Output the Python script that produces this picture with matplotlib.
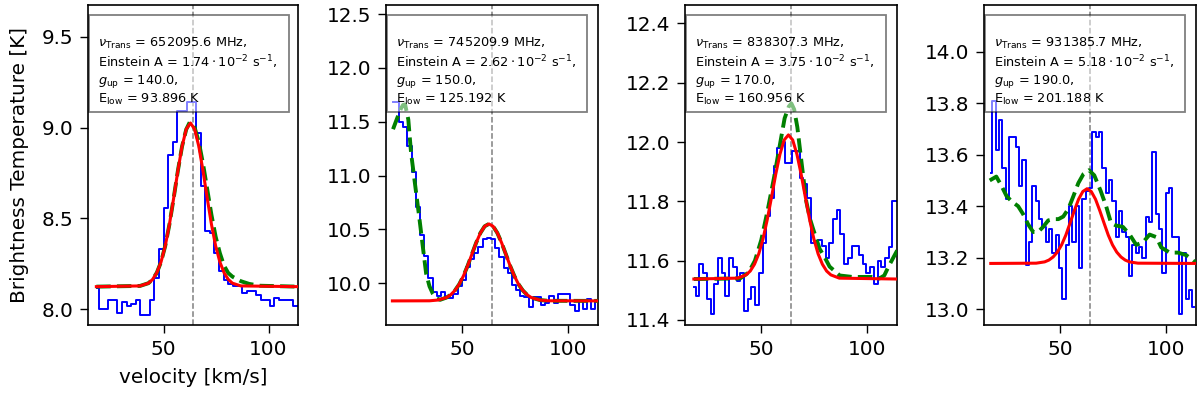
import numpy as np
import matplotlib
matplotlib.use('Agg')
import matplotlib.pyplot as plt
from matplotlib.patches import Rectangle
from matplotlib.ticker import MultipleLocator

# observed spectra (brightness temperature per channel)
v0List = [18.1, 17.2, 18.2, 17.2]
dvList = [2.2, 1.97, 1.75, 1.57]

obs1 = [8.12, 8.00, 8.00, 8.05, 8.05, 7.98, 8.04, 8.02, 8.03, 8.05,
        7.97, 7.97, 8.05, 8.17, 8.33, 8.56, 8.85, 8.92, 9.09, 9.09,
        9.14, 9.14, 8.97, 8.68, 8.43, 8.42, 8.31, 8.21, 8.16, 8.14,
        8.13, 8.13, 8.09, 8.10, 8.10, 8.08, 8.05, 8.05, 8.02, 8.06,
        8.05, 8.05, 8.05, 8.02, 8.02]
obs2 = [11.68, 11.68, 11.50, 11.45, 11.27, 11.03, 10.71, 10.45, 10.25, 10.05,
        9.92, 9.88, 9.92, 9.86, 9.86, 9.90, 9.97, 10.03, 10.15, 10.22,
        10.28, 10.34, 10.41, 10.42, 10.41, 10.33, 10.24, 10.14, 10.09, 9.98,
        9.94, 9.88, 9.87, 9.78, 9.87, 9.87, 9.80, 9.82, 9.88, 9.82,
        9.90, 9.90, 9.90, 9.80, 9.74, 9.83, 9.76, 9.85, 9.76, 9.83]
obs3 = [11.51, 11.48, 11.59, 11.56, 11.47, 11.42, 11.52, 11.61, 11.56, 11.48,
        11.61, 11.58, 11.53, 11.56, 11.43, 11.47, 11.51, 11.45, 11.56, 11.66,
        11.75, 11.81, 11.92, 11.98, 12.00, 11.93, 11.93, 11.97, 11.97, 11.88,
        11.86, 11.81, 11.66, 11.66, 11.67, 11.65, 11.61, 11.66, 11.74, 11.77,
        11.69, 11.59, 11.61, 11.65, 11.65, 11.62, 11.59, 11.56, 11.58, 11.52,
        11.60, 11.58, 11.61, 11.645, 11.80, 11.80]
obs4 = [13.53, 13.81, 13.62, 13.735, 13.55, 13.43, 13.67, 13.67, 13.63, 13.48,
        13.58, 13.17, 13.26, 13.48, 13.42, 13.35, 13.32, 13.26, 13.31, 13.22,
        13.29, 13.16, 13.04, 13.25, 13.40, 13.26, 13.40, 13.16, 13.43, 13.46,
        13.47, 13.69, 13.67, 13.69, 13.55, 13.45, 13.50, 13.42, 13.28, 13.38,
        13.30, 13.28, 13.13, 13.25, 13.22, 13.24, 13.20, 13.36, 13.34, 13.61,
        13.37, 13.31, 13.14, 13.45, 13.47, 13.28, 13.28, 12.98, 13.22, 13.04,
        13.075, 13.01]

# single line fit (red)
fitV1 = [18, 38.8, 42.8, 44.8, 46.8, 48.8, 50.8, 52.8, 54.8, 56.8, 58.8, 60.8, 62.8,
         64.8, 66.8, 68.8, 70.8, 72.8, 74.8, 76.8, 78.8, 80.8, 82.8, 86.8, 114]
fitT1 = [8.125, 8.129, 8.144, 8.165, 8.202, 8.261, 8.349, 8.468, 8.611, 8.761, 8.896, 8.991, 9.025,
         8.991, 8.896, 8.761, 8.611, 8.468, 8.349, 8.261, 8.202, 8.165, 8.144, 8.129, 8.125]
fitV2 = [17, 34.5, 38.5, 42.5, 44.5, 46.5, 48.5, 50.5, 52.5, 54.5, 56.5, 58.5, 60.5, 62.5,
         64.5, 66.5, 68.5, 70.5, 72.5, 74.5, 76.5, 78.5, 80.5, 82.5, 86.5, 90.5, 115]
fitT2 = [9.835, 9.836, 9.843, 9.866, 9.892, 9.932, 9.989, 10.067, 10.162, 10.269, 10.375, 10.466, 10.528, 10.55,
         10.528, 10.466, 10.375, 10.269, 10.162, 10.067, 9.989, 9.932, 9.892, 9.866, 9.843, 9.836, 9.835]
fitV3 = [18.2, 38.8, 42.8, 44.8, 46.8, 48.8, 50.8, 52.8, 54.8, 56.8, 58.8, 60.8, 62.8,
         64.8, 66.8, 68.8, 70.8, 72.8, 74.8, 76.8, 78.8, 80.8, 82.8, 86.8, 114.5]
fitT3 = [11.538, 11.541, 11.552, 11.565, 11.588, 11.623, 11.673, 11.738, 11.813, 11.891, 11.959, 12.007, 12.024,
         12.007, 11.959, 11.891, 11.813, 11.738, 11.673, 11.623, 11.588, 11.565, 11.552, 11.541, 11.538]
fitV4 = [17.2, 38.6, 42.6, 44.6, 46.6, 48.6, 50.6, 52.6, 54.6, 56.6, 58.6, 60.6, 62.6,
         64.6, 66.6, 68.6, 70.6, 72.6, 74.6, 76.6, 78.6, 80.6, 82.6, 86.6, 114.5]
fitT4 = [13.178, 13.179, 13.184, 13.191, 13.203, 13.222, 13.250, 13.288, 13.335, 13.383, 13.427, 13.457, 13.468,
         13.457, 13.427, 13.383, 13.335, 13.288, 13.250, 13.222, 13.203, 13.191, 13.184, 13.179, 13.178]

# full model (green dashed)
modV1 = [18, 38.8, 42.8, 44.8, 46.8, 48.8, 50.8, 52.8, 54.8, 56.8, 58.8, 60.8, 62.5,
         64.8, 66.8, 68.8, 70.8, 72.8, 74.8, 76.8, 78.8, 80.8, 82.8, 86.8, 90.8, 96, 114]
modT1 = [8.125, 8.129, 8.144, 8.165, 8.202, 8.261, 8.349, 8.468, 8.611, 8.761, 8.896, 8.99, 9.03,
         9.00, 8.92, 8.80, 8.66, 8.52, 8.40, 8.31, 8.24, 8.20, 8.18, 8.155, 8.14, 8.13, 8.125]
modV2 = [17.3, 19, 21, 22, 23, 24.5, 25.8, 27.8, 29.8, 31.4, 32.9, 34.5, 36.1, 37.6, 39.5,
         42.5, 44.5, 46.5, 48.5, 50.5, 52.5, 54.5, 56.5, 58.5, 60.5, 62.5, 64.5, 66.5, 68.5,
         70.5, 72.5, 74.5, 76.5, 78.5, 80.5, 82.5, 86.5, 90.5, 115]
modT2 = [11.43, 11.52, 11.62, 11.655, 11.66, 11.52, 11.21, 10.90, 10.59, 10.33, 10.09, 9.97, 9.90, 9.86, 9.845,
         9.866, 9.892, 9.932, 9.989, 10.067, 10.162, 10.269, 10.375, 10.466, 10.528, 10.55, 10.528, 10.466, 10.375,
         10.269, 10.162, 10.067, 9.989, 9.932, 9.892, 9.866, 9.843, 9.836, 9.835]
modV3 = [18.2, 40, 44, 47, 50, 53, 56, 59, 61, 63, 64.2, 65.5, 67, 69, 71.2, 73, 74.3,
         77.5, 80, 82.2, 87, 93, 102, 105.7, 108, 110, 114.5]
modT3 = [11.538, 11.54, 11.56, 11.60, 11.67, 11.77, 11.88, 12.00, 12.08, 12.12, 12.13, 12.11, 12.05, 11.93, 11.80, 11.74, 11.71,
         11.64, 11.61, 11.58, 11.55, 11.545, 11.545, 11.54, 11.55, 11.58, 11.64]
modV4 = [16.7, 19.8, 22.2, 24.6, 26.9, 30.1, 32.4, 34.8, 37.2, 39.5, 41.9, 44.3, 46.7, 49.1,
         51.4, 53.8, 56.2, 58.5, 60.9, 63.5, 66, 69, 71.6, 73.9, 76.3, 79.5, 82.7, 85.8, 89,
         92.1, 95.3, 97.6, 101.6, 105.5, 109.4, 114]
modT4 = [13.50, 13.515, 13.48, 13.44, 13.42, 13.40, 13.37, 13.33, 13.30, 13.30, 13.32, 13.345, 13.35, 13.35,
         13.36, 13.39, 13.44, 13.49, 13.525, 13.54, 13.52, 13.46, 13.40, 13.335, 13.325, 13.32, 13.29, 13.25, 13.26,
         13.29, 13.28, 13.24, 13.22, 13.22, 13.21, 13.18]

# transition parameters
nuTrans = ['652095.6', '745209.9', '838307.3', '931385.7']
einsteinA = ['1.74', '2.62', '3.75', '5.18']
gUp = ['140.0', '150.0', '170.0', '190.0']
eLow = ['93.896', '125.192', '160.956', '201.188']
vLsr = 64.0

obsList = [obs1, obs2, obs3, obs4]
fitList = [(fitV1, fitT1), (fitV2, fitT2), (fitV3, fitT3), (fitV4, fitT4)]
modList = [(modV1, modT1), (modV2, modT2), (modV3, modT3), (modV4, modT4)]

# layout
axLeft = [0.0733, 0.3217, 0.5708, 0.82]
axWidth = [0.175, 0.1767, 0.1767, 0.1767]
yLims = [(7.914, 9.674), (9.611, 12.584), (11.383, 12.462), (12.939, 14.181)]
yStep = [0.5, 0.5, 0.2, 0.2]

plt.rcParams['axes.linewidth'] = 1.2
fig = plt.figure(figsize=(12, 3.94), dpi=100)

for k in range(4):
    ax = fig.add_axes([axLeft[k], 0.1751, axWidth[k], 0.8122])
    vel = v0List[k] + dvList[k] * np.arange(len(obsList[k]))
    ax.plot(vel, obsList[k], color='blue', lw=1.4, drawstyle='steps-mid', zorder=2)
    ax.plot(modList[k][0], modList[k][1], color='green', lw=2.8, ls='--', zorder=3)
    ax.plot(fitList[k][0], fitList[k][1], color='red', lw=2.2, zorder=4)
    ax.axvline(vLsr, color='gray', lw=1.1, ls='--', zorder=1)
    ax.set_xlim(14, 114)
    ax.set_ylim(yLims[k])
    ax.set_xticks([50, 100])
    ax.yaxis.set_major_locator(MultipleLocator(yStep[k]))
    ax.tick_params(labelsize=14.4, width=1.0, length=5.8, pad=4.8)

    # info box (200 px wide)
    boxW = 200.0 / (axWidth[k] * 1200)
    ax.add_patch(Rectangle((0.005, 0.667), boxW, 0.302, transform=ax.transAxes,
                           facecolor='white', edgecolor='black', alpha=0.5,
                           lw=1.3, zorder=5))
    label = (r'$\nu_{\rm Trans}$ = ' + nuTrans[k] + ' MHz,\n'
             + 'Einstein A = $' + einsteinA[k] + r'\cdot10^{-2}$ s$^{-1}$,' + '\n'
             + r'$g_{\rm up}$ = ' + gUp[k] + ',\n'
             + r'E$_{\rm low}$ = ' + eLow[k] + ' K')
    ax.text(0.049, 0.902, label, transform=ax.transAxes, fontsize=9.3,
            va='top', ha='left', linespacing=1.15, zorder=6)
    if k == 0:
        ax.set_ylabel('Brightness Temperature [K]', fontsize=14.4, labelpad=9)
        ax.set_xlabel('velocity [km/s]', fontsize=14.4, labelpad=7)

plt.savefig('out.png', dpi=100)
